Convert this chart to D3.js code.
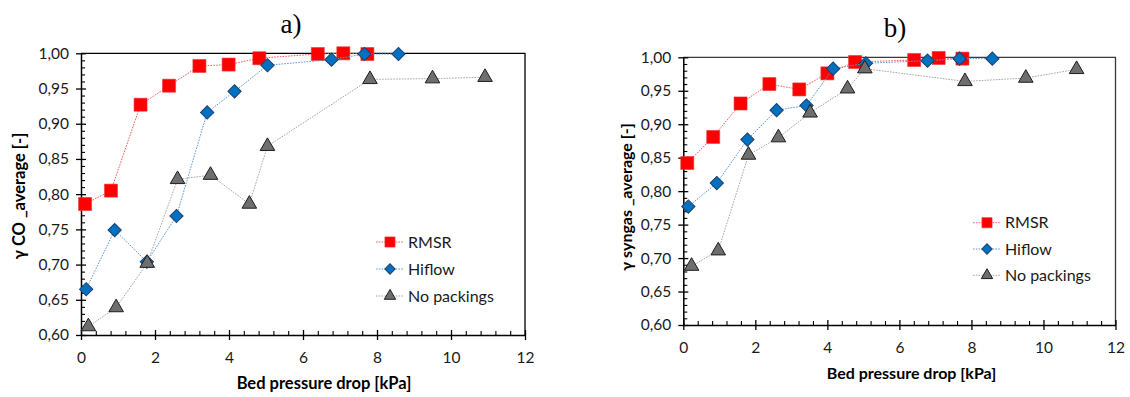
<!DOCTYPE html>
<html><head><meta charset="utf-8">
<script src="https://cdn.jsdelivr.net/npm/d3@7"></script>
<style>body{margin:0;background:#fff}</style>
</head><body>
<svg id="chart" width="1130" height="397"></svg>
<script>
// ---- data ----
const seriesNames = ["RMSR", "Hiflow", "No packings"];
const xTickValues = [0, 2, 4, 6, 8, 10, 12];
const yTickValues = [0.60, 0.65, 0.70, 0.75, 0.80, 0.85, 0.90, 0.95, 1.00];

// panel a) CO
const coRmsrX   = [0.11, 0.81, 1.61, 2.38, 3.20, 3.99, 4.82, 6.40, 7.09, 7.74];
const coRmsrY   = [0.786, 0.805, 0.927, 0.954, 0.982, 0.984, 0.993, 0.999, 1.000, 0.999];
const coHiflowX = [0.14, 0.91, 1.78, 2.58, 3.41, 4.15, 5.04, 6.77, 7.66, 8.58];
const coHiflowY = [0.665, 0.749, 0.704, 0.769, 0.916, 0.946, 0.983, 0.991, 0.999, 0.999];
const coNoneX   = [0.20, 0.95, 1.79, 2.61, 3.50, 4.55, 5.04, 7.81, 9.50, 10.92];
const coNoneY   = [0.612, 0.639, 0.702, 0.821, 0.827, 0.786, 0.868, 0.963, 0.964, 0.966];

// panel b) syngas
const sgRmsrX   = [0.11, 0.83, 1.59, 2.39, 3.22, 4.00, 4.77, 6.41, 7.09, 7.75];
const sgRmsrY   = [0.842, 0.881, 0.931, 0.960, 0.952, 0.976, 0.993, 0.996, 0.999, 0.998];
const sgHiflowX = [0.14, 0.93, 1.78, 2.59, 3.42, 4.16, 5.07, 6.78, 7.67, 8.58];
const sgHiflowY = [0.777, 0.812, 0.877, 0.921, 0.928, 0.983, 0.991, 0.995, 0.998, 0.998];
const sgNoneX   = [0.23, 0.97, 1.81, 2.64, 3.52, 4.56, 5.04, 7.82, 9.51, 10.92];
const sgNoneY   = [0.688, 0.711, 0.854, 0.880, 0.917, 0.953, 0.983, 0.964, 0.969, 0.982];

// ---- styles ----
const styles = [
  {line: "#ff5a5a", fill: "#ff0000", stroke: "#e23b3b", shape: "square"},
  {line: "#5b9bd5", fill: "#0070c0", stroke: "#1f3f6e", shape: "diamond"},
  {line: "#a6a6a6", fill: "#6e6e6e", stroke: "#1e1e1e", shape: "triangle"}
];

const fmt = d3.formatLocale({decimal: ",", thousands: ".", grouping: [3], currency: ["", ""]}).format(".2f");
const FONT = "Lato, 'Open Sans', sans-serif";

const svg = d3.select("#chart");

function markerPath(shape, legend) {
  const k = legend ? 0.78 : 1;
  if (shape === "square") return d3.symbol(d3.symbolSquare, 170 * k * k)();
  if (shape === "diamond") return d3.symbol(d3.symbolSquare, 88 * k * k)();
  return d3.symbol(d3.symbolTriangle, 92 * k * k)();
}

function drawPanel(p) {
  const g = svg.append("g");
  const x = d3.scaleLinear().domain([0, 12]).range([p.left, p.right]);
  const y = d3.scaleLinear().domain([0.6, 1.0]).range([p.bottom, p.top]);

  // frame (top and right edges)
  g.append("path")
    .attr("d", `M${p.left},${p.top}H${p.right}V${p.bottom}`)
    .attr("fill", "none").attr("stroke", p.frame).attr("stroke-width", 1.3);

  // minor ticks, inside the plot
  const xMinor = d3.range(0, 12.001, 0.4).filter(v => Math.abs(v / 2 - Math.round(v / 2)) > 1e-6);
  const yMinor = d3.range(0.60, 1.0001, 0.01).filter(v => Math.abs(v / 0.05 - Math.round(v / 0.05)) > 1e-6);
  g.append("g").attr("transform", `translate(0,${p.bottom})`)
    .call(d3.axisBottom(x).tickValues(xMinor).tickSize(-4).tickFormat(""))
    .call(s => s.select(".domain").remove())
    .selectAll("line").attr("stroke", "#000").attr("stroke-width", 1.1);
  g.append("g").attr("transform", `translate(${p.left},0)`)
    .call(d3.axisLeft(y).tickValues(yMinor).tickSize(-4).tickFormat(""))
    .call(s => s.select(".domain").remove())
    .selectAll("line").attr("stroke", "#000").attr("stroke-width", 1.1);

  // major axes, ticks crossing the axis line
  const xa = g.append("g").attr("transform", `translate(0,${p.bottom})`)
    .call(d3.axisBottom(x).tickValues(xTickValues).tickSize(5).tickSizeOuter(0).tickPadding(12));
  xa.selectAll(".tick line").attr("y1", -5).attr("y2", 5).attr("stroke", "#000").attr("stroke-width", 1.3);
  xa.select(".domain").attr("stroke", "#000").attr("stroke-width", 1.5);
  xa.selectAll("text").attr("font-family", FONT).attr("font-size", 15.5).attr("fill", "#1a1a1a");

  const ya = g.append("g").attr("transform", `translate(${p.left},0)`)
    .call(d3.axisLeft(y).tickValues(yTickValues).tickSize(5).tickSizeOuter(0).tickPadding(7).tickFormat(fmt));
  ya.selectAll(".tick line").attr("x1", -5).attr("x2", 5).attr("stroke", "#000").attr("stroke-width", 1.3);
  ya.select(".domain").attr("stroke", "#000").attr("stroke-width", 1.5);
  ya.selectAll("text").attr("font-family", FONT).attr("font-size", 15.5).attr("fill", "#1a1a1a");

  // series: dotted line, then markers
  p.series.forEach((s, i) => {
    const st = styles[i];
    const pts = s.x.map((v, j) => [v, s.y[j]]);
    g.append("path")
      .attr("d", d3.line().x(d => x(d[0])).y(d => y(d[1]))(pts))
      .attr("fill", "none").attr("stroke", st.line).attr("stroke-width", 1)
      .attr("stroke-dasharray", "1.6,1.2");
    g.selectAll(null).data(pts).enter().append("path")
      .attr("d", markerPath(st.shape, false))
      .attr("transform", d => `translate(${x(d[0])},${y(d[1])})` + (st.shape === "diamond" ? " rotate(45)" : ""))
      .attr("fill", st.fill).attr("stroke", st.stroke).attr("stroke-width", st.shape === "square" ? 0.6 : 1);
  });

  // legend
  seriesNames.forEach((name, i) => {
    const st = styles[i];
    const ly = p.legendY[i];
    g.append("line").attr("x1", p.legendX).attr("x2", p.legendX + 27).attr("y1", ly).attr("y2", ly)
      .attr("stroke", st.line).attr("stroke-width", 1).attr("stroke-dasharray", "1.6,1.2");
    g.append("path").attr("d", markerPath(st.shape, true))
      .attr("transform", `translate(${p.legendX + 14},${ly})` + (st.shape === "diamond" ? " rotate(45)" : ""))
      .attr("fill", st.fill).attr("stroke", st.stroke).attr("stroke-width", st.shape === "square" ? 0.6 : 1);
    g.append("text").attr("x", p.legendX + 32).attr("y", ly + 5.5)
      .attr("font-family", FONT).attr("font-size", 16).attr("fill", "#1a1a1a").text(name);
  });

  // titles and axis labels
  g.append("text").attr("x", p.titleX).attr("y", p.titleY).attr("text-anchor", "middle")
    .attr("font-family", "'Liberation Serif', 'Times New Roman', serif").attr("font-size", 27)
    .attr("fill", "#000").text(p.title);
  g.append("text").attr("x", p.xLabelX).attr("y", p.xLabelY).attr("text-anchor", "middle")
    .attr("font-family", FONT).attr("font-weight", 700).attr("font-size", p.labelSize)
    .attr("fill", "#000").text("Bed pressure drop [kPa]");
  g.append("text").attr("transform", `translate(${p.yLabelX},${p.yLabelY}) rotate(-90)`)
    .attr("text-anchor", "middle")
    .attr("font-family", FONT).attr("font-weight", 700).attr("font-size", p.labelSize)
    .attr("fill", "#000").text(p.yLabel);
}

drawPanel({
  left: 81, right: 525, top: 53.3, bottom: 335, frame: "#000",
  series: [{x: coRmsrX, y: coRmsrY}, {x: coHiflowX, y: coHiflowY}, {x: coNoneX, y: coNoneY}],
  legendX: 376, legendY: [242, 269, 296],
  title: "a)", titleX: 291, titleY: 33,
  xLabelX: 324, xLabelY: 389, labelSize: 16.5,
  yLabel: "γ CO _average [-]", yLabelX: 25, yLabelY: 196
});

drawPanel({
  left: 683.3, right: 1115.5, top: 57.3, bottom: 325, frame: "#3a3a3a",
  series: [{x: sgRmsrX, y: sgRmsrY}, {x: sgHiflowX, y: sgHiflowY}, {x: sgNoneX, y: sgNoneY}],
  legendX: 973, legendY: [222.7, 249, 275.3],
  title: "b)", titleX: 895, titleY: 37,
  xLabelX: 911.5, xLabelY: 379, labelSize: 16,
  yLabel: "γ syngas _average [-]", yLabelX: 632, yLabelY: 197
});
</script>
</body></html>
